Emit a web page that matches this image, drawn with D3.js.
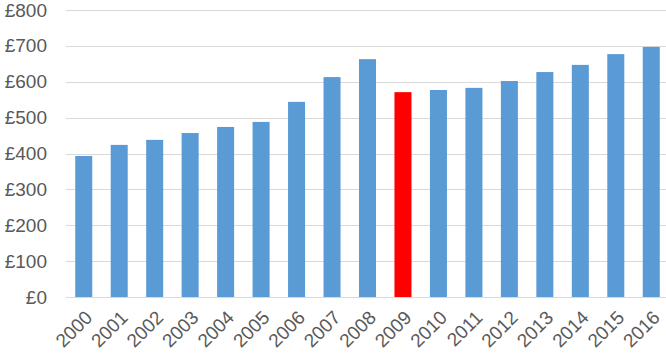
<!DOCTYPE html>
<html><head><meta charset="utf-8">
<script src="https://cdn.jsdelivr.net/npm/d3@7"></script>
<style>body{margin:0;background:#fff;overflow:hidden}</style>
</head><body>
<svg id="c" width="666" height="359"></svg>
<script>
const years = ["2000","2001","2002","2003","2004","2005","2006","2007","2008","2009","2010","2011","2012","2013","2014","2015","2016"];
const values = [393,424,438,457,474,488,544,613,663,571,577,583,602,627,647,677,697];
const highlightYear = "2009";
const yTicks = [0,100,200,300,400,500,600,700,800];

const svg = d3.select("#c");
const x = d3.scaleBand().domain(years).range([66, 669]).paddingInner(0.52).paddingOuter(0.26);
const y = d3.scaleLinear().domain([0, 800]).range([297, 10]);

const grid = svg.append("g");
grid.selectAll("line").data(yTicks).join("line")
  .attr("x1", 66).attr("x2", 666)
  .attr("y1", d => Math.round(y(d)) + 0.5).attr("y2", d => Math.round(y(d)) + 0.5)
  .attr("stroke", "#d9d9d9").attr("stroke-width", 1);

const yAxis = svg.append("g").attr("transform", "translate(66,0)")
  .call(d3.axisLeft(y).tickValues(yTicks).tickSize(0).tickPadding(19).tickFormat(d => "£" + d));
yAxis.select(".domain").remove();
yAxis.selectAll("text").attr("font-family", "Liberation Sans, Arial, sans-serif")
  .attr("font-size", "19px").attr("fill", "#595959");

svg.append("g").selectAll("rect").data(values).join("rect")
  .attr("x", (d, i) => x(years[i]))
  .attr("width", x.bandwidth())
  .attr("y", d => y(d))
  .attr("height", d => y(0) - y(d))
  .attr("fill", (d, i) => years[i] === highlightYear ? "#ff0000" : "#5b9bd5");

const xAxis = svg.append("g").attr("transform", "translate(0,297)")
  .call(d3.axisBottom(x).tickSize(0).tickPadding(0));
xAxis.select(".domain").remove();
xAxis.selectAll("text")
  .attr("font-family", "Liberation Sans, Arial, sans-serif")
  .attr("font-size", "19px").attr("fill", "#595959")
  .attr("text-anchor", "end")
  .attr("dy", "0.35em")
  .attr("transform", "translate(5,17) rotate(-45)");
</script>
</body></html>
